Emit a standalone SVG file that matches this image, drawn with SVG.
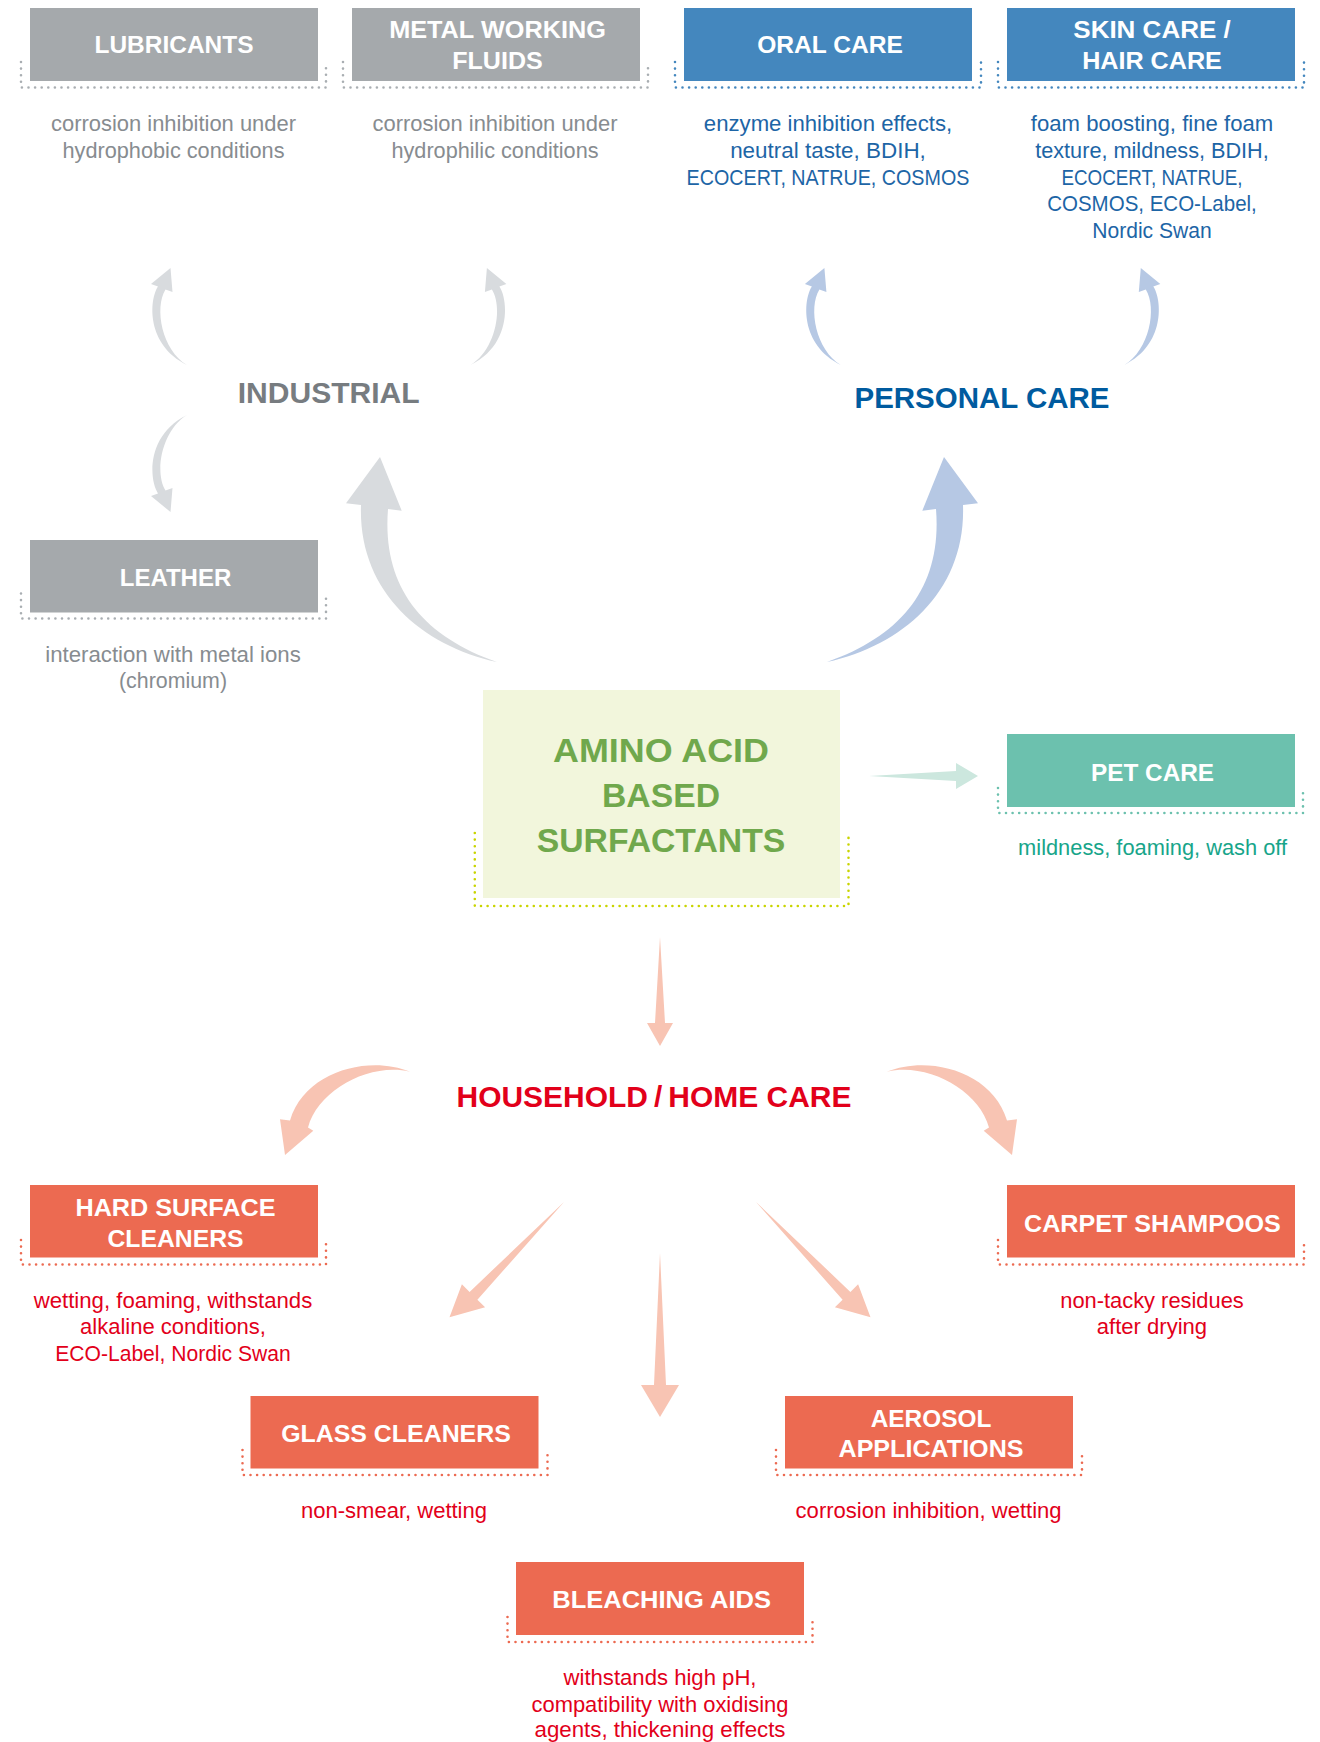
<svg xmlns="http://www.w3.org/2000/svg" width="1320" height="1742" viewBox="0 0 1320 1742">
<style>
.t{font-family:"Liberation Sans",Arial,sans-serif;font-weight:bold;font-size:23px;fill:#fff;text-anchor:middle}
.d{font-family:"Liberation Sans",Arial,sans-serif;font-size:22px;text-anchor:middle}
.big{font-family:"Liberation Sans",Arial,sans-serif;font-weight:bold;font-size:29px;text-anchor:middle}
.dots{fill:none;stroke-width:2.6;stroke-linecap:round;stroke-dasharray:0 6.6}
.grey .box{fill:#a5a9ac}.grey .dots{stroke:#a9aeb2}.grey .d{fill:#878c90}
.blue .box{fill:#4487be}.blue .dots{stroke:#4487be}.blue .d{fill:#1d65a6}
.red .box{fill:#ec6a51}.red .dots{stroke:#ec6a51}.red .d{fill:#e2001a}
.teal .box{fill:#6cc1ae}.teal .dots{stroke:#6cc1ae}.teal .d{fill:#17a58a}
.ag{fill:#d8dbde}.ab{fill:#b6c8e4}.ao{fill:#f8c4b3}.at{fill:#cce7de}
</style>
<defs>
<path id="small" d="M187,365 C162,350 154,308 165.5,289.4 L172.5,292 L170.5,268 L151,284 L158,286.6 C149,300 146,345 187,365 Z"/>
<path id="bigarrow" d="M497,662 C420,645 358,590 361,505 L346,503.3 L380,457 L401.7,510.7 L388,509 C382,585 420,635 497,662 Z"/>
<path id="curve" d="M410,1071.7 C370,1055 305,1070 290,1120.5 L280,1119.3 L285,1155 L313.3,1130.7 L308,1127.5 C318,1090 370,1062 410,1071.7 Z"/>
<path id="diag" d="M564,1202 L477.4,1299.7 L485.1,1307.3 L449.5,1317.3 L461.9,1284.3 L469.6,1291.9 Z"/>
</defs>

<g id="connectors">
<use href="#small" class="ag"/>
<use href="#small" class="ag" transform="translate(657.4,0) scale(-1,1)"/>
<use href="#small" class="ag" transform="translate(0,780) scale(1,-1)"/>
<use href="#small" class="ab" transform="translate(653.9,0)"/>
<use href="#small" class="ab" transform="translate(1311.3,0) scale(-1,1)"/>
<use href="#bigarrow" class="ag"/>
<use href="#bigarrow" class="ab" transform="translate(1324,0) scale(-1,1)"/>
<path class="at" d="M869,776 L956,771 L956,763 L978,776 L956,789 L956,781 Z"/>
<path class="ao" d="M660,937 L665,1023 L673,1023 L660,1046 L647,1023 L655,1023 Z"/>
<use href="#curve" class="ao"/>
<use href="#curve" class="ao" transform="translate(1297,0) scale(-1,1)"/>
<use href="#diag" class="ao"/>
<use href="#diag" class="ao" transform="translate(1320,0) scale(-1,1)"/>
<path class="ao" d="M660,1253 L666,1385 L679,1385 L660,1417 L641,1385 L654,1385 Z"/>
</g>

<g id="industrial">
<text class="big" x="328.7" y="403" textLength="182" lengthAdjust="spacingAndGlyphs" fill="#777c80">INDUSTRIAL</text>
</g>
<g id="personal-care">
<text class="big" x="982" y="408" textLength="255" lengthAdjust="spacingAndGlyphs" fill="#005b9f">PERSONAL CARE</text>
</g>
<g id="household">
<text class="big" x="654" y="1106.7" textLength="395" lengthAdjust="spacingAndGlyphs" fill="#e2001a">HOUSEHOLD&#8201;/&#8201;HOME CARE</text>
</g>

<g id="amino">
<path d="M474.8,833 V906 H848.5 V833" fill="none" stroke="#c9d400" stroke-width="2.6" stroke-linecap="round" stroke-dasharray="0 6.6"/>
<rect x="483" y="690" width="357" height="208" fill="#f2f6dc"/>
<g font-family="Liberation Sans,Arial,sans-serif" font-weight="bold" font-size="34" fill="#70a84c" text-anchor="middle">
<text x="661" y="761.5" textLength="216" lengthAdjust="spacingAndGlyphs">AMINO ACID</text>
<text x="661" y="806.5" textLength="118" lengthAdjust="spacingAndGlyphs">BASED</text>
<text x="661" y="851.5" textLength="248.6" lengthAdjust="spacingAndGlyphs">SURFACTANTS</text>
</g>
</g>

<g id="lubricants" class="grey">
<path class="dots" d="M21,62 V87.5 H326 V62"/>
<rect class="box" x="30" y="8" width="288" height="73"/>
<text class="t" x="174" y="53" textLength="159" lengthAdjust="spacingAndGlyphs">LUBRICANTS</text>
<text class="d" x="173.5" y="131" textLength="245" lengthAdjust="spacingAndGlyphs">corrosion inhibition under</text>
<text class="d" x="173.5" y="158" textLength="222" lengthAdjust="spacingAndGlyphs">hydrophobic conditions</text>
</g>

<g id="metal-working-fluids" class="grey">
<path class="dots" d="M343,62 V87.5 H648 V62"/>
<rect class="box" x="352" y="8" width="288" height="73"/>
<text class="t" x="497.5" y="38.3" textLength="216.7" lengthAdjust="spacingAndGlyphs">METAL WORKING</text>
<text class="t" x="497.5" y="69.3" textLength="90.5" lengthAdjust="spacingAndGlyphs">FLUIDS</text>
<text class="d" x="495" y="131" textLength="245" lengthAdjust="spacingAndGlyphs">corrosion inhibition under</text>
<text class="d" x="495" y="158" textLength="207" lengthAdjust="spacingAndGlyphs">hydrophilic conditions</text>
</g>

<g id="oral-care" class="blue">
<path class="dots" d="M675,62 V87.5 H981 V62"/>
<rect class="box" x="684" y="8" width="288" height="73"/>
<text class="t" x="830" y="53" textLength="145.6" lengthAdjust="spacingAndGlyphs">ORAL CARE</text>
<text class="d" x="828" y="131" textLength="248.3" lengthAdjust="spacingAndGlyphs">enzyme inhibition effects,</text>
<text class="d" x="828" y="158" textLength="195.7" lengthAdjust="spacingAndGlyphs">neutral taste, BDIH,</text>
<text class="d" x="828" y="184.5" textLength="282.8" lengthAdjust="spacingAndGlyphs">ECOCERT, NATRUE, COSMOS</text>
</g>

<g id="skin-hair-care" class="blue">
<path class="dots" d="M998,62 V87.5 H1304 V62"/>
<rect class="box" x="1007" y="8" width="288" height="73"/>
<text class="t" x="1152" y="38.3" textLength="157.4" lengthAdjust="spacingAndGlyphs">SKIN CARE /</text>
<text class="t" x="1152" y="69.3" textLength="139.7" lengthAdjust="spacingAndGlyphs">HAIR CARE</text>
<text class="d" x="1152" y="131" textLength="242.4" lengthAdjust="spacingAndGlyphs">foam boosting, fine foam</text>
<text class="d" x="1152" y="158" textLength="233.6" lengthAdjust="spacingAndGlyphs">texture, mildness, BDIH,</text>
<text class="d" x="1152" y="184.5" textLength="181" lengthAdjust="spacingAndGlyphs">ECOCERT, NATRUE,</text>
<text class="d" x="1152" y="211" textLength="209.6" lengthAdjust="spacingAndGlyphs">COSMOS, ECO-Label,</text>
<text class="d" x="1152" y="238" textLength="119.5" lengthAdjust="spacingAndGlyphs">Nordic Swan</text>
</g>

<g id="leather" class="grey">
<path class="dots" d="M21,593.5 V618.5 H326 V593.5"/>
<rect class="box" x="30" y="540" width="288" height="72.5"/>
<text class="t" x="175.5" y="586" textLength="111.5" lengthAdjust="spacingAndGlyphs">LEATHER</text>
<text class="d" x="173" y="661.5" textLength="255.5" lengthAdjust="spacingAndGlyphs">interaction with metal ions</text>
<text class="d" x="173" y="688" textLength="108" lengthAdjust="spacingAndGlyphs">(chromium)</text>
</g>

<g id="pet-care" class="teal">
<path class="dots" d="M998,788 V813 H1303 V788"/>
<rect class="box" x="1007" y="734" width="288" height="73"/>
<text class="t" x="1152.5" y="780.7" textLength="123" lengthAdjust="spacingAndGlyphs">PET CARE</text>
<text class="d" x="1152.6" y="855" textLength="269" lengthAdjust="spacingAndGlyphs">mildness, foaming, wash off</text>
</g>

<g id="hard-surface-cleaners" class="red">
<path class="dots" d="M21,1240 V1264.5 H326 V1240"/>
<rect class="box" x="30" y="1185" width="288" height="72.5"/>
<text class="t" x="175.5" y="1216" textLength="200" lengthAdjust="spacingAndGlyphs">HARD SURFACE</text>
<text class="t" x="175.5" y="1246.7" textLength="136" lengthAdjust="spacingAndGlyphs">CLEANERS</text>
<text class="d" x="173" y="1307.5" textLength="278.6" lengthAdjust="spacingAndGlyphs">wetting, foaming, withstands</text>
<text class="d" x="173" y="1334" textLength="186" lengthAdjust="spacingAndGlyphs">alkaline conditions,</text>
<text class="d" x="173" y="1360.5" textLength="235.5" lengthAdjust="spacingAndGlyphs">ECO-Label, Nordic Swan</text>
</g>

<g id="carpet-shampoos" class="red">
<path class="dots" d="M998,1240 V1264.5 H1304 V1240"/>
<rect class="box" x="1007" y="1185" width="288" height="72.5"/>
<text class="t" x="1152.4" y="1231.5" textLength="256.8" lengthAdjust="spacingAndGlyphs">CARPET SHAMPOOS</text>
<text class="d" x="1152" y="1307.5" textLength="183.5" lengthAdjust="spacingAndGlyphs">non-tacky residues</text>
<text class="d" x="1152" y="1334" textLength="110.3" lengthAdjust="spacingAndGlyphs">after drying</text>
</g>

<g id="glass-cleaners" class="red">
<path class="dots" d="M242.5,1450 V1475 H547.5 V1450"/>
<rect class="box" x="250.5" y="1396" width="288" height="72.5"/>
<text class="t" x="396" y="1441.7" textLength="229.7" lengthAdjust="spacingAndGlyphs">GLASS CLEANERS</text>
<text class="d" x="394" y="1518" textLength="186" lengthAdjust="spacingAndGlyphs">non-smear, wetting</text>
</g>

<g id="aerosol-applications" class="red">
<path class="dots" d="M776,1450 V1475 H1082 V1450"/>
<rect class="box" x="785" y="1396" width="288" height="72.5"/>
<text class="t" x="931" y="1426.7" textLength="120.6" lengthAdjust="spacingAndGlyphs">AEROSOL</text>
<text class="t" x="931" y="1456.7" textLength="185" lengthAdjust="spacingAndGlyphs">APPLICATIONS</text>
<text class="d" x="928.6" y="1518" textLength="266" lengthAdjust="spacingAndGlyphs">corrosion inhibition, wetting</text>
</g>

<g id="bleaching-aids" class="red">
<path class="dots" d="M507.5,1617 V1642 H812.5 V1617"/>
<rect class="box" x="516" y="1562" width="288" height="73"/>
<text class="t" x="661.6" y="1608.3" textLength="218.7" lengthAdjust="spacingAndGlyphs">BLEACHING AIDS</text>
<text class="d" x="660" y="1685" textLength="193" lengthAdjust="spacingAndGlyphs">withstands high pH,</text>
<text class="d" x="660" y="1711.5" textLength="257" lengthAdjust="spacingAndGlyphs">compatibility with oxidising</text>
<text class="d" x="660" y="1737" textLength="251" lengthAdjust="spacingAndGlyphs">agents, thickening effects</text>
</g>
</svg>
